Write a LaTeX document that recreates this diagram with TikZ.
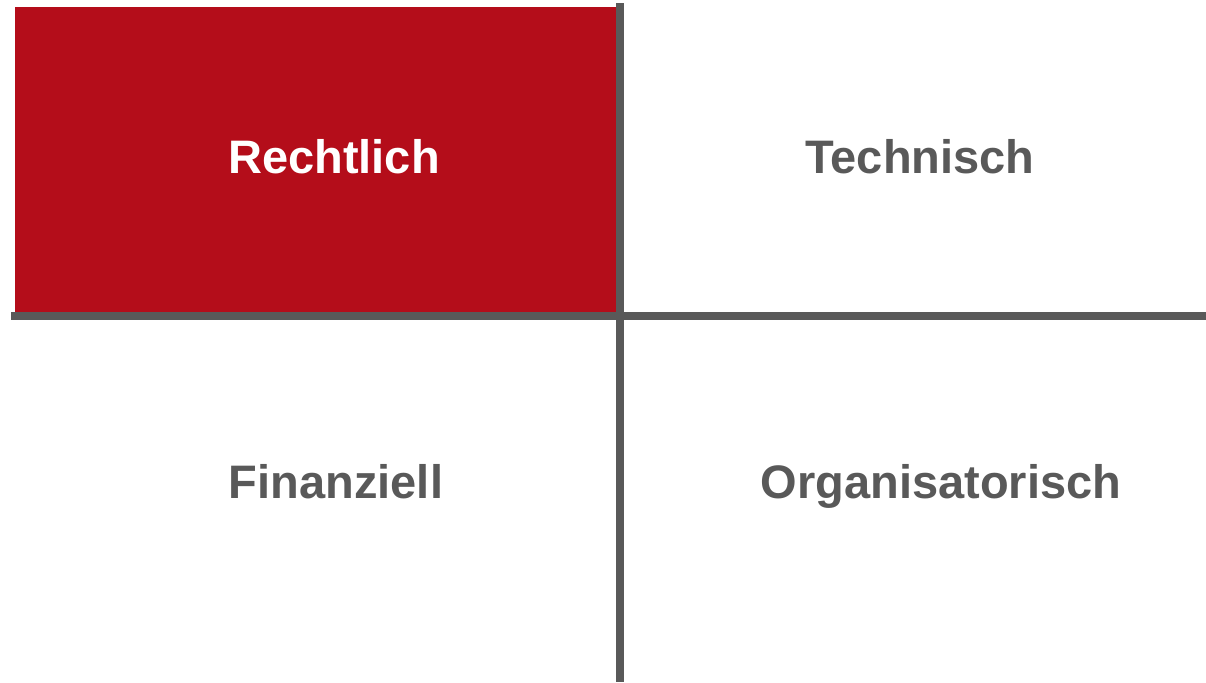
\documentclass[tikz,border=0pt]{standalone}
\usepackage{fontspec}
\setmainfont{Liberation Sans}
\definecolor{qred}{RGB}{180,13,26}
\definecolor{qgray}{RGB}{89,89,89}
\begin{document}
\begin{tikzpicture}[x=1pt,y=-1pt,
  label/.style={anchor=base,inner sep=0pt,font=\fontsize{47}{56}\selectfont\bfseries},
  divider/.style={draw=qgray,line width=7.5pt}]
\useasboundingbox (0,0) rectangle (1206,682);
\fill[qred] (15,7) rectangle (617,313);
\coordinate (vtop) at (620,3.5);
\coordinate (vbot) at (620,682);
\coordinate (hl) at (11,316);
\coordinate (hr) at (1206,316);
\draw[divider] (vtop) -- (vbot);
\draw[divider] (hl) -- (hr);
\node[label,text=white] (recht) at (334,173) {Rechtlich};
\node[label,text=qgray] (tech) at (920,173) {Technisch};
\node[label,text=qgray] (fin) at (336,498) {Finanziell};
\node[label,text=qgray] (org) at (941,498) {Organisatorisch};
\end{tikzpicture}
\end{document}
